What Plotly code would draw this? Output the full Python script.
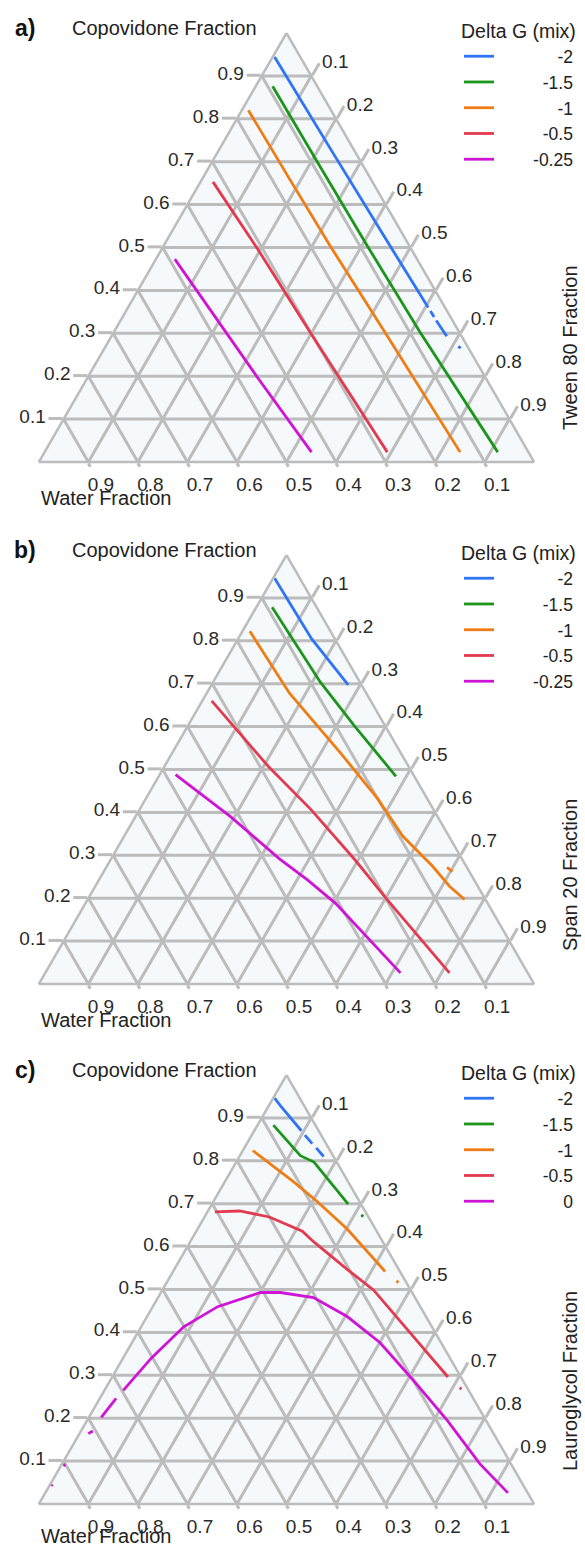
import plotly.graph_objects as go

W, H = 585, 1548

# ---------------- data ----------------
levels_ab = ["-2", "-1.5", "-1", "-0.5", "-0.25"]
levels_c = ["-2", "-1.5", "-1", "-0.5", "0"]
colors = ["#2f74f5", "#1b961b", "#f07d14", "#e23a4e", "#cf14d6"]

# Panel a (Tween 80): Copovidone fraction (a) and Water fraction (b)
pa_m2_cop = [0.944, 0.72, 0.5035, 0.36, None, 0.352, 0.338, None, 0.33, 0.293, None, 0.270, 0.265]
pa_m2_wat = [0.052, 0.046, 0.039, 0.034, None, 0.0335, 0.033, None, 0.0327, 0.030, None, 0.018, 0.016]
pa_m15_cop = [0.876, 0.70, 0.5035, 0.302, 0.023]
pa_m15_wat = [0.090, 0.088, 0.085, 0.079, 0.062]
pa_m1_cop = [0.820, 0.66, 0.5035, 0.302, 0.023]
pa_m1_wat = [0.167, 0.164, 0.160, 0.150, 0.138]
pa_m05_cop = [0.653, 0.4965, 0.302, 0.023]
pa_m05_wat = [0.322, 0.310, 0.301, 0.285]
pa_m025_cop = [0.473, 0.197, 0.023]
pa_m025_wat = [0.489, 0.460, 0.438]

# Panel b (Span 20)
pb_m2_cop = [0.946, 0.805, 0.697]
pb_m2_wat = [0.051, 0.047, 0.027]
pb_m15_cop = [0.878, 0.704, 0.601, 0.484]
pb_m15_wat = [0.090, 0.080, 0.062, 0.037]
pb_m1_cop = [0.822, 0.678, 0.540, 0.432, 0.345, 0.275, 0.228, 0.197, None, 0.272, 0.262]
pb_m1_wat = [0.163, 0.155, 0.122, 0.100, 0.093, 0.068, 0.057, 0.042, None, 0.040, 0.034]
pb_m05_cop = [0.660, 0.507, 0.406, 0.289, 0.195, 0.026]
pb_m05_wat = [0.321, 0.283, 0.247, 0.217, 0.198, 0.158]
pb_m025_cop = [0.488, 0.390, 0.293, 0.242, 0.188, 0.026]
pb_m025_wat = [0.480, 0.418, 0.369, 0.336, 0.307, 0.257]

# Panel c (Lauroglycol)
pc_m2_cop = [0.946, 0.928, 0.87, None, 0.86, 0.84, None, 0.83, 0.81]
pc_m2_wat = [0.051, 0.048, 0.035, None, 0.033, 0.028, None, 0.025, 0.020]
pc_m15_cop = [0.883, 0.812, 0.797, 0.699, None, 0.674, 0.670]
pc_m15_wat = [0.085, 0.066, 0.046, 0.026, None, 0.012, 0.010]
pc_m1_cop = [0.824, 0.751, 0.704, 0.641, 0.542, None, 0.520, 0.516]
pc_m1_wat = [0.156, 0.110, 0.085, 0.057, 0.030, None, 0.018, 0.016]
pc_m05_cop = [0.681, 0.683, 0.669, 0.636, 0.612, 0.547, 0.499, 0.296, None, 0.271, 0.268]
pc_m05_wat = [0.304, 0.253, 0.200, 0.150, 0.140, 0.104, 0.075, 0.026, None, 0.015, 0.013]
pc_0_cop = [0.042, 0.046, None, 0.089, 0.092, None, 0.164, 0.170, None, 0.202, 0.246, None,
            0.265, 0.340, 0.413, 0.460, 0.493, 0.493, 0.481, 0.437, 0.376, 0.289, 0.195, 0.094, 0.026]
pc_0_wat = [0.954, 0.950, None, 0.906, 0.900, None, 0.818, 0.806, None, 0.773, 0.721, None,
            0.697, 0.603, 0.501, 0.409, 0.306, 0.266, 0.205, 0.159, 0.123, 0.100, 0.078, 0.063, 0.040]

panels = [
    dict(curves=[(pa_m2_cop, pa_m2_wat), (pa_m15_cop, pa_m15_wat), (pa_m1_cop, pa_m1_wat),
                 (pa_m05_cop, pa_m05_wat), (pa_m025_cop, pa_m025_wat)],
         levels=levels_ab, label="a)", third="Tween 80 Fraction", third_y=348, water_y=498),
    dict(curves=[(pb_m2_cop, pb_m2_wat), (pb_m15_cop, pb_m15_wat), (pb_m1_cop, pb_m1_wat),
                 (pb_m05_cop, pb_m05_wat), (pb_m025_cop, pb_m025_wat)],
         levels=levels_ab, label="b)", third="Span 20 Fraction", third_y=875, water_y=1020),
    dict(curves=[(pc_m2_cop, pc_m2_wat), (pc_m15_cop, pc_m15_wat), (pc_m1_cop, pc_m1_wat),
                 (pc_m05_cop, pc_m05_wat), (pc_0_cop, pc_0_wat)],
         levels=levels_c, label="c)", third="Lauroglycol Fraction", third_y=1381, water_y=1536),
]

tick_vals = [0.1, 0.2, 0.3, 0.4, 0.5, 0.6, 0.7, 0.8, 0.9]
tick_text = ["0.1", "0.2", "0.3", "0.4", "0.5", "0.6", "0.7", "0.8", "0.9"]

# ---------------- layout helpers ----------------
FONT = "Liberation Sans, Arial, sans-serif"
GRID = "#bcbcbc"
offsets = [0, 522, 1042]          # vertical pixel offset of each panel
tri_top, tri_bot, tri_l, tri_r = 33, 462, 38, 535

FS = "\u2007"   # figure space (digit width)
PS = "\u2008"   # punctuation space (period width)
HS = "\u2004"   # three-per-em space (~hyphen width)
pad_map = {"-2": FS * 2 + PS, "-1.5": FS, "-1": FS * 2 + PS, "-0.5": FS, "-0.25": "", "0": HS + FS * 2 + PS}
base_pad = FS * 3 + PS
b_tick_text = [FS * 2 + t for t in tick_text]   # nudge bottom labels to the right


def py(ypx):
    return 1 - ypx / H


def px(xpx):
    return xpx / W


fig = go.Figure()
annotations = []
layout = {}

for i, p in enumerate(panels):
    tname = "ternary" if i == 0 else f"ternary{i + 1}"
    lname = "legend" if i == 0 else f"legend{i + 1}"
    off = offsets[i]
    for (cop, wat), lev, col in zip(p["curves"], p["levels"], colors):
        fig.add_trace(go.Scatterternary(
            a=cop, b=wat, mode="lines", subplot=tname,
            line=dict(color=col, width=2.8),
            name=base_pad + pad_map[lev] + lev,
            legend=lname, connectgaps=False, hoverinfo="skip"))

    axis_common = dict(
        tickmode="array", tickvals=tick_vals, ticktext=tick_text,
        ticks="outside", ticklen=14, tickwidth=2.5, tickcolor=GRID,
        showgrid=True, gridcolor=GRID, gridwidth=2.5,
        showline=True, linecolor=GRID, linewidth=2.5,
        tickfont=dict(family=FONT, size=19, color="#2a2a2a"),
        title=dict(text=""), min=0,
    )
    b_axis = dict(axis_common, ticklen=4, ticktext=b_tick_text)
    layout[tname] = dict(
        domain=dict(x=[px(tri_l), px(tri_r)], y=[py(tri_bot + off), py(tri_top + off)]),
        sum=1, bgcolor="#f6f9fc",
        aaxis=axis_common, baxis=b_axis, caxis=axis_common,
    )
    layout[lname] = dict(
        x=px(459), y=py(13 + off), xanchor="left", yanchor="top",
        title=dict(text="Delta G (mix)", font=dict(family=FONT, size=19.5, color="#222")),
        font=dict(family=FONT, size=17.5, color="#222"),
        bgcolor="rgba(0,0,0,0)", tracegroupgap=0, itemwidth=30,
    )
    annotations += [
        dict(x=px(25), y=py(28 + off), text="<b>" + p["label"] + "</b>", showarrow=False,
             xanchor="center", yanchor="middle",
             xref="paper", yref="paper", font=dict(family=FONT, size=23, color="#111")),
        dict(x=px(164), y=py(28 + off), text="Copovidone Fraction", showarrow=False,
             xanchor="center", yanchor="middle",
             xref="paper", yref="paper", font=dict(family=FONT, size=20, color="#222")),
        dict(x=px(106), y=py(p["water_y"]), text="Water Fraction", showarrow=False,
             xanchor="center", yanchor="middle",
             xref="paper", yref="paper", font=dict(family=FONT, size=20, color="#222")),
        dict(x=px(570), y=py(p["third_y"]), text=p["third"], showarrow=False,
             xanchor="center", yanchor="middle", textangle=-90, xref="paper", yref="paper",
             font=dict(family=FONT, size=20, color="#222")),
    ]

fig.update_layout(
    width=W, height=H, margin=dict(l=0, r=0, t=0, b=0, autoexpand=False),
    paper_bgcolor="white", plot_bgcolor="white",
    showlegend=True, annotations=annotations, **layout,
)

fig.write_html("out.html", config={"displayModeBar": False},
               post_script="document.body.style.margin='0';document.body.style.padding='0';")
